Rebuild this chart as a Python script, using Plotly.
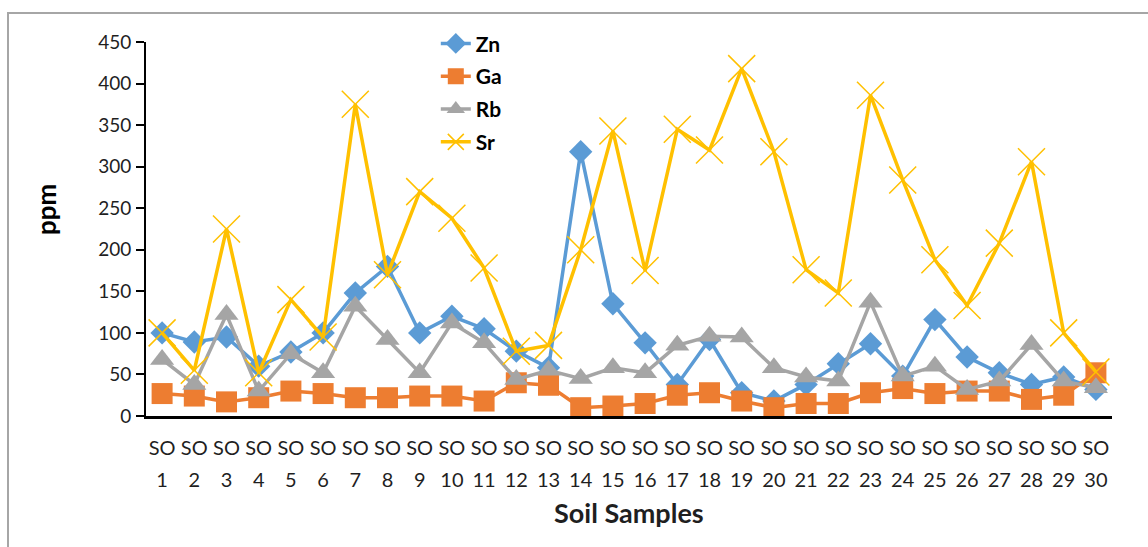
import plotly.graph_objects as go

samples = list(range(1, 31))
tick_top = ["SO"] * 30
tick_num = [str(i) for i in samples]

zn = [100, 89, 95, 60, 77, 100, 148, 180, 100, 120, 105, 78, 58, 318, 135, 88, 38, 92, 28, 18,
      38, 63, 87, 48, 116, 71, 52, 38, 47, 32]
ga = [27, 24, 17, 22, 30, 27, 22, 22, 24, 24, 18, 40, 37, 10, 12, 15, 25, 28, 18, 10,
      15, 15, 28, 33, 27, 30, 30, 20, 25, 52]
rb = [68, 38, 122, 30, 75, 52, 132, 92, 52, 112, 88, 44, 55, 45, 58, 52, 85, 96, 95, 58,
      47, 42, 137, 48, 60, 32, 42, 86, 42, 34]
sr = [100, 55, 225, 52, 140, 95, 375, 170, 270, 238, 178, 78, 85, 200, 343, 175, 345, 320, 418, 318,
      176, 148, 386, 284, 188, 133, 208, 306, 100, 53]

y_ticks = list(range(0, 451, 50))

FONT = "Lato"
TXT = "#1f1f1f"

fig = go.Figure()
fig.add_trace(go.Scatter(x=samples, y=zn, name="Zn", mode="lines+markers",
                         line=dict(color="#5B9BD5", width=3.5),
                         marker=dict(symbol="diamond", size=18, color="#5B9BD5"),
                         legendgroup="a"))
fig.add_trace(go.Scatter(x=samples, y=ga, name="Ga", mode="lines+markers",
                         line=dict(color="#ED7D31", width=3.5),
                         marker=dict(symbol="square", size=21, color="#ED7D31"),
                         legendgroup="b"))
fig.add_trace(go.Scatter(x=samples, y=rb, name="Rb", mode="lines+markers",
                         line=dict(color="#A5A5A5", width=3.5),
                         marker=dict(symbol="triangle-up", size=21, color="#A5A5A5"),
                         legendgroup="c"))
fig.add_trace(go.Scatter(x=samples, y=sr, name="Sr", mode="lines+markers",
                         line=dict(color="#FFC000", width=3.5),
                         marker=dict(symbol="x-thin-open", size=27, color="#FFC000",
                                     line=dict(color="#FFC000", width=1.5)),
                         legendgroup="d"))
# invisible trace to carry the second tick row
fig.add_trace(go.Scatter(x=samples, y=[None] * 30, xaxis="x2", showlegend=False,
                         hoverinfo="skip"))

fig.update_layout(
    width=1148, height=547,
    margin=dict(l=146, r=36, t=42, b=131),
    paper_bgcolor="white", plot_bgcolor="white",
    font=dict(family=FONT, size=16, color=TXT),
    xaxis=dict(range=[0.5, 30.5], tickmode="array", tickvals=samples, ticktext=tick_top,
               showgrid=False, zeroline=False, showline=True, linecolor="black", linewidth=2.5,
               ticks="", tickfont=dict(size=20, family=FONT, color=TXT),
               ticklabelstandoff=12),
    xaxis2=dict(range=[0.5, 30.5], tickmode="array", tickvals=samples, ticktext=tick_num,
                overlaying="x", anchor="y", side="bottom", showgrid=False, zeroline=False,
                showline=False, ticks="", tickfont=dict(size=20, family=FONT, color=TXT),
                ticklabelstandoff=50),
    yaxis=dict(range=[0, 450], tickmode="array", tickvals=y_ticks,
               showgrid=False, zeroline=False, showline=True, linecolor="black", linewidth=2,
               ticks="outside", ticklen=8, tickcolor="black", tickwidth=1.5,
               tickfont=dict(size=19, family=FONT, color=TXT), ticklabelstandoff=1),
    legend=dict(x=0.3, y=1.05, xanchor="left", yanchor="top",
                font=dict(size=21, family=FONT, color="black", weight="bold"),
                bgcolor="rgba(0,0,0,0)", tracegroupgap=2.5, itemwidth=30),
    showlegend=True,
    shapes=[dict(type="rect", xref="paper", yref="paper", x0=-146/966 + 8/966, x1=1.2,
                 y0=-0.5, y1=1 + 29/374, line=dict(color="#A6A6A6", width=2),
                 fillcolor="rgba(0,0,0,0)", layer="below")],
    annotations=[
        dict(text="<b>Soil Samples</b>", xref="paper", yref="paper", x=0.5, y=-(512 - 416) / 374,
             xanchor="center", yanchor="middle", showarrow=False,
             font=dict(size=27, family=FONT, color=TXT)),
        dict(text="<b>ppm</b>", xref="paper", yref="paper", x=-(146 - 46) / 966,
             y=(416 - 210) / 374, xanchor="center", yanchor="middle", showarrow=False,
             textangle=-90, font=dict(size=26, family=FONT, color="black")),
    ],
)

fig.write_html("out.html")
